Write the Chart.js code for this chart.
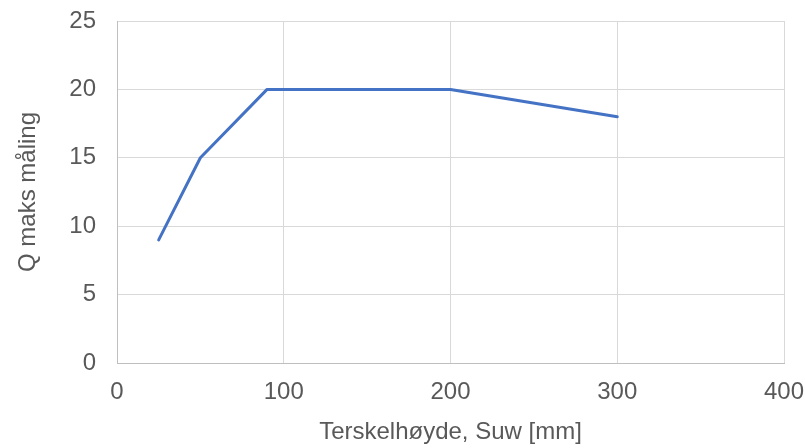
<!DOCTYPE html>
<html>
<head>
<meta charset="utf-8">
<script src="https://cdn.jsdelivr.net/npm/chart.js@4"></script>
<style>
  html, body { margin: 0; padding: 0; background: #fff; }
  #wrap { width: 805px; height: 448px; }
</style>
</head>
<body>
<div id="wrap"><canvas id="myChart" width="805" height="448"></canvas></div>
<script>
const terskel = [25, 50, 90, 200, 300];
const qMaks = [9, 15, 20, 20, 18];
const xTicks = [0, 100, 200, 300, 400];
const yTicks = [0, 5, 10, 15, 20, 25];

const textColor = "#595959";
const gridColor = "#d9d9d9";
const fontFamily = "'Liberation Sans', Arial, sans-serif";

const ctx = document.getElementById("myChart");

new Chart(ctx, {
  type: "line",
  data: {
    datasets: [
      {
        data: terskel.map((x, i) => ({ x: x, y: qMaks[i] })),
        borderColor: "#4472C4",
        borderWidth: 3,
        borderCapStyle: "round",
        borderJoinStyle: "round",
        pointRadius: 0,
        tension: 0,
        fill: false,
      },
    ],
  },
  options: {
    responsive: false,
    animation: false,
    layout: {
      padding: { top: 21, right: 21, bottom: 0, left: 0 },
    },
    plugins: {
      legend: { display: false },
      tooltip: { enabled: false },
    },
    scales: {
      x: {
        type: "linear",
        min: xTicks[0],
        max: xTicks[xTicks.length - 1],
        afterBuildTicks: (axis) => {
          axis.ticks = xTicks.map((v) => ({ value: v }));
        },
        afterFit: (axis) => {
          axis.height = 85;
          axis.paddingLeft = 0;
          axis.paddingRight = 0;
        },
        grid: {
          color: gridColor,
          lineWidth: 1,
          drawTicks: false,
        },
        border: { color: "#bfbfbf", width: 1 },
        ticks: {
          padding: 15,
          color: textColor,
          font: { family: fontFamily, size: 24 },
        },
        title: {
          display: true,
          text: "Terskelhøyde, Suw [mm]",
          color: textColor,
          font: { family: fontFamily, size: 24 },
          padding: { top: 0, bottom: 1 },
        },
      },
      y: {
        min: yTicks[0],
        max: yTicks[yTicks.length - 1],
        afterBuildTicks: (axis) => {
          axis.ticks = yTicks.map((v) => ({ value: v }));
        },
        afterFit: (axis) => {
          axis.width = 117;
          axis.paddingTop = 0;
          axis.paddingBottom = 0;
        },
        grid: {
          color: gridColor,
          lineWidth: 1,
          drawTicks: false,
        },
        border: { color: "#bfbfbf", width: 1 },
        ticks: {
          padding: 21,
          color: textColor,
          font: { family: fontFamily, size: 24 },
        },
        title: {
          display: true,
          text: "Q maks måling",
          color: textColor,
          font: { family: fontFamily, size: 24 },
          padding: { top: 14, bottom: 0 },
        },
      },
    },
  },
});
</script>
</body>
</html>
